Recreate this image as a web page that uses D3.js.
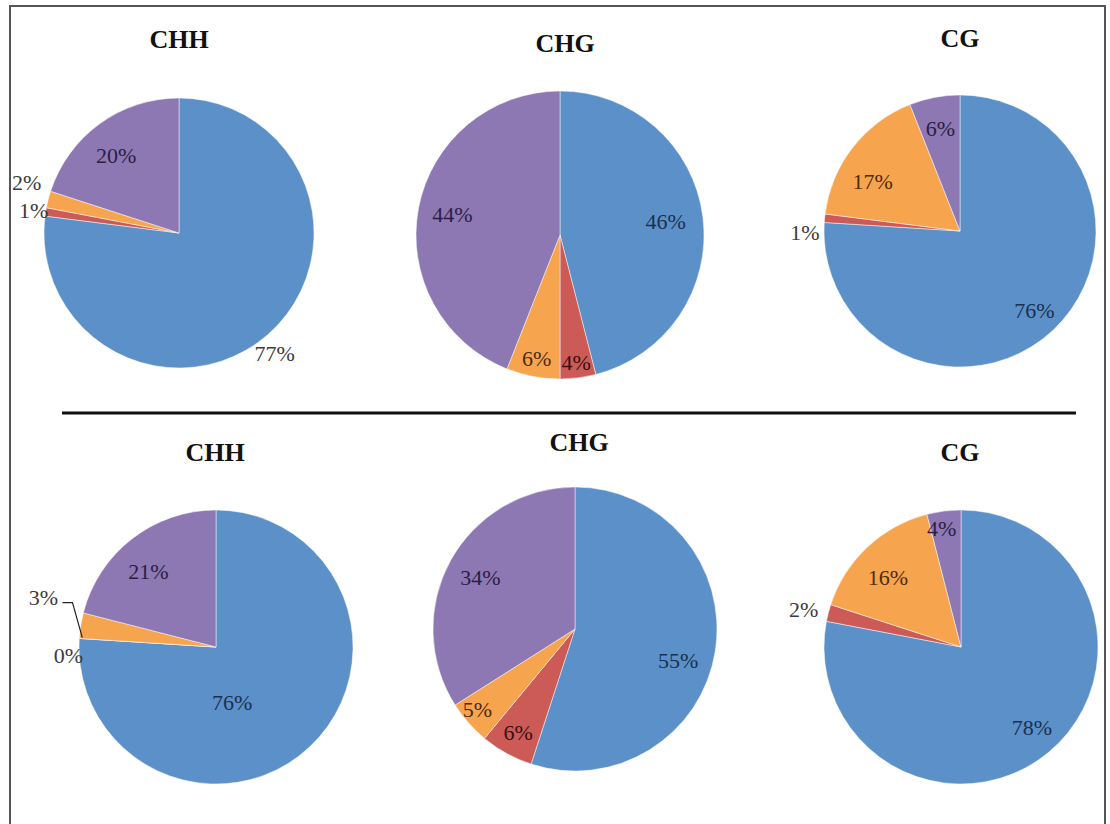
<!DOCTYPE html>
<html>
<head>
<meta charset="utf-8">
<script src="https://cdn.jsdelivr.net/npm/d3@7"></script>
<style>
  html, body { margin: 0; padding: 0; background: #fff; }
  svg { display: block; }
</style>
</head>
<body>
<svg id="chart" width="1110" height="824"></svg>
<script>
// Shares (%) of the four sequence groups in each methylation context.
// Slice order: group A (blue), group B (red), group C (orange), group D (purple).
const groupNames = ["Group A", "Group B", "Group C", "Group D"];
const panelTitles = ["CHH", "CHG", "CG", "CHH", "CHG", "CG"];

const upperCHH = [77, 1, 2, 20];
const upperCHG = [46, 4, 6, 44];
const upperCG  = [76, 1, 17, 6];
const lowerCHH = [76, 0, 3, 21];
const lowerCHG = [55, 6, 5, 34];
const lowerCG  = [78, 2, 16, 4];

const panelValues = [upperCHH, upperCHG, upperCG, lowerCHH, lowerCHG, lowerCG];

// Layout of each panel: pie centre, radius, title position.
const panelLayout = [
  { cx: 179, cy: 233, r: 135, tx: 179, ty: 39 },
  { cx: 560, cy: 235, r: 144, tx: 565, ty: 43 },
  { cx: 960, cy: 231, r: 136, tx: 960, ty: 38 },
  { cx: 216, cy: 647, r: 137, tx: 215, ty: 452 },
  { cx: 575, cy: 629, r: 142, tx: 579, ty: 442 },
  { cx: 961, cy: 647, r: 137, tx: 960, ty: 452 }
];

// Label placement: distance from centre (fraction of radius) and angular shift (deg).
const labelRadius = [
  [1.14, 1.09, 1.19, 0.74],
  [0.74, 0.89, 0.87, 0.76],
  [0.80, 1.14, 0.74, 0.77],
  [0.42, 1.08, 1.31, 0.74],
  [0.76, 0.83, 0.89, 0.76],
  [0.78, 1.18, 0.74, 0.88]
];
const labelTurn = [
  [3, 0, 4, -3],
  [0, 0, 0, 0],
  [0, -6, -8, 0],
  [27, -7, 7, -4],
  [8, 0, 2, 0],
  [-2, -1, -3, -2]
];
// Labels joined to their slice with a leader line: [panel, slice]
const leaderLabels = [[3, 2]];

const sliceColors = ["#5b90c8", "#cc5b57", "#f7a44f", "#8d78b3"];
const insideText  = ["#1b3050", "#3a1010", "#4d2c0c", "#2b1e45"];
const outsideText = "#3c3c3c";

const svg = d3.select("#chart");
const color = d3.scaleOrdinal().domain(groupNames).range(sliceColors);
const inkInside = d3.scaleOrdinal().domain(groupNames).range(insideText);

// Outer frame and the rule that separates the two rows
svg.append("rect")
  .attr("x", 10).attr("y", 6)
  .attr("width", 1095).attr("height", 830)
  .attr("fill", "none")
  .attr("stroke", "#555")
  .attr("stroke-width", 2);

svg.append("line")
  .attr("x1", 62).attr("x2", 1076)
  .attr("y1", 413).attr("y2", 413)
  .attr("stroke", "#111")
  .attr("stroke-width", 3);

const pie = d3.pie().sort(null).value(d => d.value);
const toRad = Math.PI / 180;

panelValues.forEach((vals, p) => {
  const lay = panelLayout[p];
  const data = vals.map((v, i) => ({ name: groupNames[i], value: v, idx: i }));
  const arcs = pie(data);
  const arc = d3.arc().innerRadius(0).outerRadius(lay.r);

  const g = svg.append("g").attr("transform", `translate(${lay.cx},${lay.cy})`);

  g.selectAll("path.slice")
    .data(arcs)
    .join("path")
    .attr("class", "slice")
    .attr("d", arc)
    .attr("fill", d => color(d.data.name))
    .attr("stroke", "#fff")
    .attr("stroke-opacity", 0.6)
    .attr("stroke-width", 0.8);

  // Percentage labels
  arcs.forEach((a, i) => {
    const mid = (a.startAngle + a.endAngle) / 2 + labelTurn[p][i] * toRad;
    const rr = labelRadius[p][i] * lay.r;
    const x = Math.sin(mid) * rr;
    const y = -Math.cos(mid) * rr;
    const inside = labelRadius[p][i] < 1;
    g.append("text")
      .attr("x", x).attr("y", y)
      .attr("dy", "0.35em")
      .attr("text-anchor", "middle")
      .attr("font-family", "'Liberation Serif', 'Times New Roman', serif")
      .attr("font-size", 22)
      .attr("fill", inside ? inkInside(a.data.name) : outsideText)
      .text(d3.format(".0%")(a.data.value / 100));

    if (leaderLabels.some(([pp, ii]) => pp === p && ii === i)) {
      const ang = a.startAngle + 0.3 * toRad;
      const ex = Math.sin(ang) * lay.r;
      const ey = -Math.cos(ang) * lay.r;
      const sx = x + 19, sy = y + 5;
      g.append("path")
        .attr("d", d3.line()([[sx, sy], [sx + 10, sy], [ex + 3, ey]]))
        .attr("fill", "none")
        .attr("stroke", "#222")
        .attr("stroke-width", 1.2);
    }
  });

  // Panel title
  svg.append("text")
    .attr("x", lay.tx).attr("y", lay.ty)
    .attr("dy", "0.35em")
    .attr("text-anchor", "middle")
    .attr("font-family", "'Liberation Serif', 'Times New Roman', serif")
    .attr("font-weight", "bold")
    .attr("font-size", 26)
    .attr("fill", "#111")
    .text(panelTitles[p]);
});
</script>
</body>
</html>
